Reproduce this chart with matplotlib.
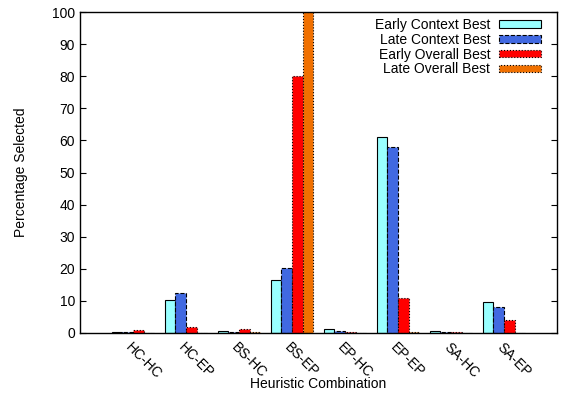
import matplotlib
matplotlib.use("Agg")
import matplotlib.pyplot as plt
import numpy as np

# データ
combos = ["HC-HC", "HC-EP", "BS-HC", "BS-EP", "EP-HC", "EP-EP", "SA-HC", "SA-EP"]
early_context = [0.3, 10.3, 0.7, 16.5, 1.1, 61.0, 0.5, 9.8]
late_context = [0.2, 12.5, 0.3, 20.3, 0.5, 58.0, 0.2, 8.0]
early_overall = [0.8, 1.8, 1.4, 80.0, 0.3, 11.0, 0.2, 4.2]
late_overall = [0.1, 0.1, 0.2, 100.0, 0.0, 0.2, 0.0, 0.0]

series = [
    ("Early Context Best", early_context, "#99ffff", "solid"),
    ("Late Context Best", late_context, "#4169e1", "dashed"),
    ("Early Overall Best", early_overall, "#ff0000", "dotted"),
    ("Late Overall Best", late_overall, "#f07000", "dotted"),
]

plt.rcParams['font.family'] = ['Liberation Sans', 'DejaVu Sans']

fig = plt.figure(figsize=(5.62, 3.96), dpi=100)
ax = fig.add_axes([80/562, 63/396, 477/562, 321/396])

x = np.arange(len(combos))
w = 0.2
for j, (name, vals, color, ls) in enumerate(series):
    ax.bar(x + (j - 1.5) * w, vals, w, color=color, edgecolor="black",
           linewidth=0.8, linestyle=ls, label=name)

ax.set_xlim(-1, 8)
ax.set_ylim(0, 100)
ax.set_yticks(range(0, 101, 10))
ax.set_xticks(x)
ax.set_xticklabels(combos, rotation=-45, ha="left", va="top",
                   rotation_mode="anchor", fontsize=10)
ax.tick_params(axis="x", length=0, pad=5)
ax.tick_params(axis="y", direction="in", right=True, length=4, labelsize=10)
for s in ax.spines.values():
    s.set_linewidth(1.0)

ax.set_ylabel("Percentage Selected", fontsize=10, labelpad=17)
ax.set_xlabel("Heuristic Combination", fontsize=10, labelpad=-3)

ax.legend(loc="upper right", frameon=False, markerfirst=False, fontsize=10,
          handlelength=3.0, handleheight=0.45, labelspacing=0.05,
          borderpad=0.3, borderaxespad=0, handletextpad=0.65,
          bbox_to_anchor=(545/562, (396-14)/396), bbox_transform=fig.transFigure)

fig.savefig("out.png", dpi=100)
